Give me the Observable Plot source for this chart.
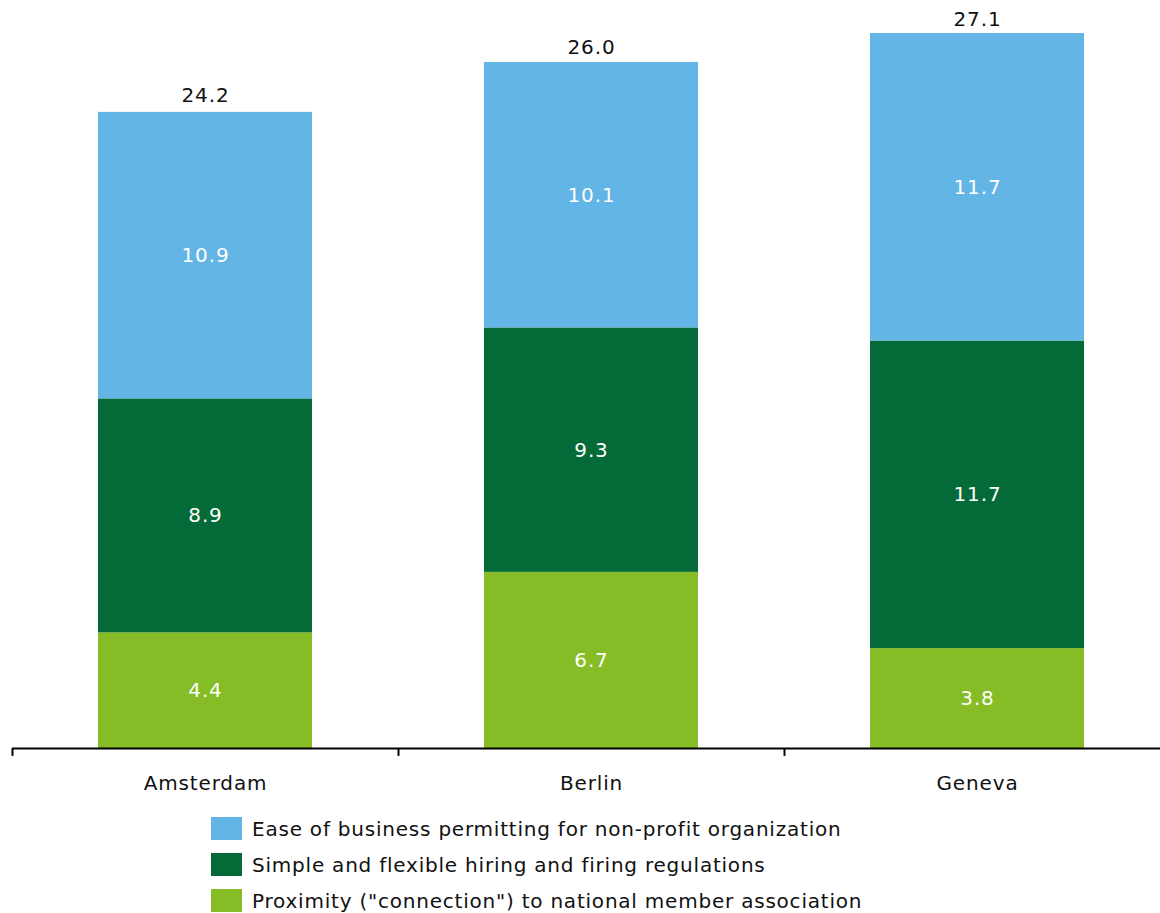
<!DOCTYPE html>
<html>
<head>
<meta charset="utf-8">
<script src="https://cdn.jsdelivr.net/npm/d3@7"></script>
<script src="https://cdn.jsdelivr.net/npm/@observablehq/plot@0.6"></script>
<style>
  html, body { margin: 0; padding: 0; background: #fff; }
  body { width: 1160px; height: 913px; overflow: hidden; font-family: "DejaVu Sans", Verdana, sans-serif; }
  #legend { margin-left: 211px; margin-top: 17px; }
  .row { display: flex; align-items: center; height: 23px; margin-bottom: 13px; font-size: 20px; letter-spacing: 0.78px; color: #111; }
  .sw { width: 31px; height: 23px; margin-right: 10px; flex: none; }
</style>
</head>
<body>
<div id="chart"></div>
<div id="legend"></div>
<script>
// Cities and their factor scores, stacked bottom to top
const cities = ["Amsterdam", "Berlin", "Geneva"];
const series = [
  "Proximity (\"connection\") to national member association",
  "Simple and flexible hiring and firing regulations",
  "Ease of business permitting for non-profit organization"
];
const proximity = [4.4, 6.7, 3.8];
const hiring = [8.9, 9.3, 11.7];
const permitting = [10.9, 10.1, 11.7];
const totals = [24.2, 26.0, 27.1];
const colors = ["#86BC25", "#046A38", "#62B5E5"];

const seriesValues = [proximity, hiring, permitting];
const rows = [];
series.forEach((s, si) => {
  cities.forEach((c, ci) => rows.push({city: c, series: s, value: seriesValues[si][ci]}));
});
const totalRows = cities.map((c, i) => ({city: c, total: totals[i]}));

const width = 1160, height = 800;
const bandwidth = (1170 - 12) / cities.length;

const chart = Plot.plot({
  width, height,
  marginLeft: 12, marginRight: -10, marginTop: 12, marginBottom: 52,
  style: {fontFamily: "DejaVu Sans, Verdana, sans-serif", fontSize: "20px", color: "#111", letterSpacing: "0.85px"},
  x: {domain: cities, padding: 0, label: null, tickSize: 0, tickPadding: 27},
  y: {domain: [0, 28], axis: null},
  color: {domain: series, range: colors},
  marks: [
    Plot.barY(rows, Plot.stackY({
      x: "city", y: "value", z: "series", fill: "series", order: null,
      insetLeft: 86, insetRight: 86
    })),
    Plot.text(rows, Plot.stackY({
      x: "city", y: "value", z: "series", order: null,
      text: d => d.value.toFixed(1), fill: "white", fontSize: 20
    })),
    Plot.text(totalRows, {
      x: "city", y: "total", text: d => d.total.toFixed(1),
      dy: -17, fill: "#111", fontSize: 20
    }),
    // category boundary ticks below the baseline
    Plot.ruleX(totalRows, {x: "city", dx: -bandwidth / 2, y1: 0, y2: -0.3, stroke: "#000", strokeWidth: 2}),
    Plot.ruleY([0], {stroke: "#000", strokeWidth: 2})
  ]
});
document.getElementById("chart").appendChild(chart);

// legend, listed top segment first
const legend = document.getElementById("legend");
[2, 1, 0].forEach(i => {
  const row = document.createElement("div");
  row.className = "row";
  const sw = document.createElement("div");
  sw.className = "sw";
  sw.style.background = colors[i];
  const label = document.createElement("span");
  label.textContent = series[i];
  row.appendChild(sw);
  row.appendChild(label);
  legend.appendChild(row);
});
</script>
</body>
</html>
